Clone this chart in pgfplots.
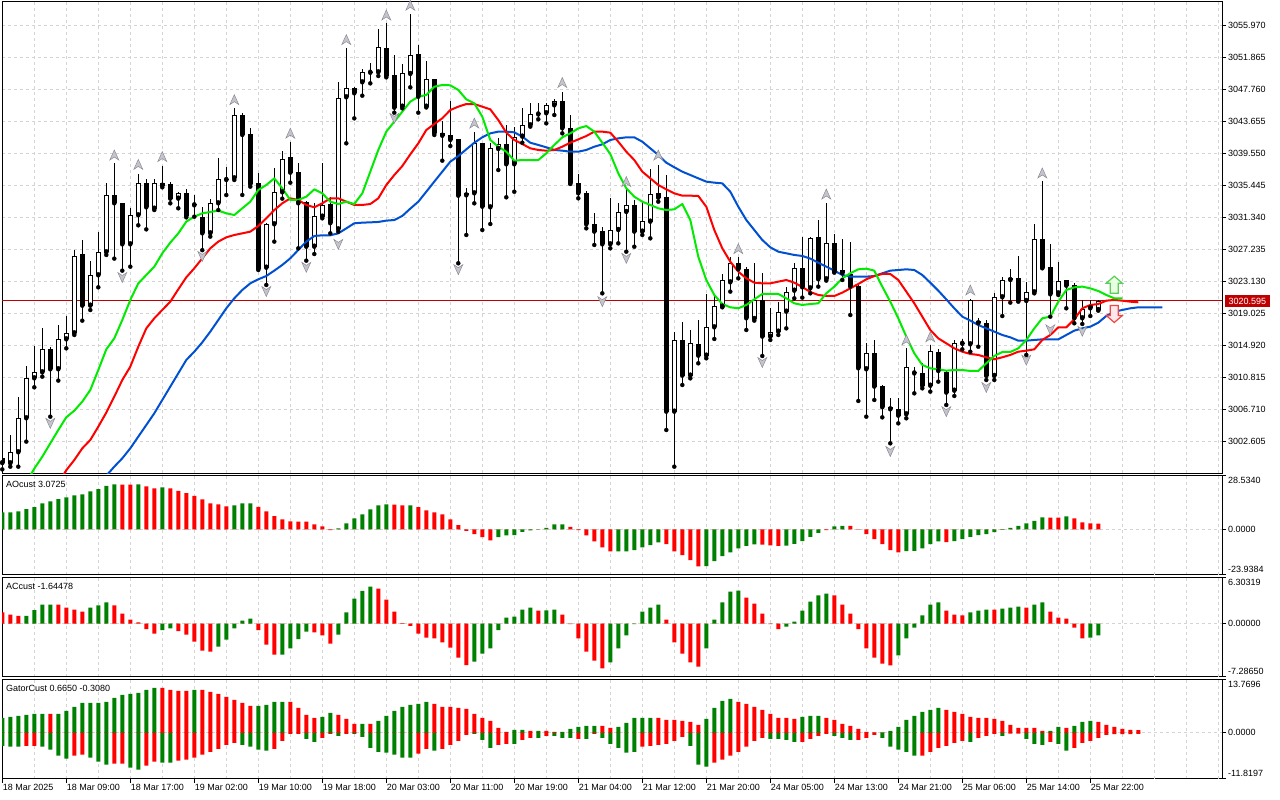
\documentclass[border=0pt]{standalone}
\usepackage{fontspec}
\setmainfont{Liberation Sans}
\usepackage{pgfplots}
\pgfplotsset{compat=1.18}
\usepackage{pgfplotstable}

\definecolor{mtgreen}{RGB}{0,128,0}
\definecolor{mtred}{RGB}{255,0,0}
\definecolor{jawc}{RGB}{0,80,210}
\definecolor{teethc}{RGB}{255,0,0}
\definecolor{lipsc}{RGB}{0,235,0}
\definecolor{gridc}{RGB}{212,212,212}
\definecolor{bidred}{RGB}{192,0,0}
\definecolor{fracfill}{RGB}{196,196,204}
\definecolor{fracdraw}{RGB}{135,135,145}
\newcommand{\lab}{\fontsize{9bp}{10bp}\selectfont}

\pgfdeclareplotmark{fup}{%
  \pgfpathmoveto{\pgfpoint{0bp}{5bp}}%
  \pgfpathlineto{\pgfpoint{4.5bp}{-5bp}}%
  \pgfpathlineto{\pgfpoint{0bp}{-2bp}}%
  \pgfpathlineto{\pgfpoint{-4.5bp}{-5bp}}%
  \pgfpathclose
  \pgfusepathqfillstroke}
\pgfdeclareplotmark{fdn}{%
  \pgfpathmoveto{\pgfpoint{0bp}{-5bp}}%
  \pgfpathlineto{\pgfpoint{4.5bp}{5bp}}%
  \pgfpathlineto{\pgfpoint{0bp}{2bp}}%
  \pgfpathlineto{\pgfpoint{-4.5bp}{5bp}}%
  \pgfpathclose
  \pgfusepathqfillstroke}
\pgfdeclareplotmark{sigup}{%
  \pgfpathmoveto{\pgfpoint{0bp}{8.5bp}}%
  \pgfpathlineto{\pgfpoint{8bp}{1.5bp}}%
  \pgfpathlineto{\pgfpoint{4bp}{1.5bp}}%
  \pgfpathlineto{\pgfpoint{4bp}{-8.5bp}}%
  \pgfpathlineto{\pgfpoint{-4bp}{-8.5bp}}%
  \pgfpathlineto{\pgfpoint{-4bp}{1.5bp}}%
  \pgfpathlineto{\pgfpoint{-8bp}{1.5bp}}%
  \pgfpathclose
  \pgfusepathqfillstroke}
\pgfdeclareplotmark{sigdn}{%
  \pgfpathmoveto{\pgfpoint{0bp}{-8.5bp}}%
  \pgfpathlineto{\pgfpoint{8bp}{-1.5bp}}%
  \pgfpathlineto{\pgfpoint{4bp}{-1.5bp}}%
  \pgfpathlineto{\pgfpoint{4bp}{8.5bp}}%
  \pgfpathlineto{\pgfpoint{-4bp}{8.5bp}}%
  \pgfpathlineto{\pgfpoint{-4bp}{-1.5bp}}%
  \pgfpathlineto{\pgfpoint{-8bp}{-1.5bp}}%
  \pgfpathclose
  \pgfusepathqfillstroke}

% ---------------- data ----------------
\pgfplotstableread{
i O H L C
0 3000.40 3001.00 2999.00 2999.80
1 2999.78 3003.41 2999.35 3001.28
2 3001.19 3008.32 2999.35 3005.55
3 3005.55 3012.25 3002.56 3010.67
4 3010.67 3014.82 3009.52 3011.44
5 3011.44 3017.08 3010.89 3014.39
6 3014.39 3014.65 3005.76 3011.83
7 3011.83 3017.51 3010.38 3015.67
8 3015.67 3018.66 3014.52 3016.44
9 3016.44 3027.13 3016.23 3026.36
10 3026.57 3028.41 3018.07 3019.99
11 3019.99 3025.72 3019.43 3023.88
12 3023.88 3029.48 3022.34 3026.83
13 3026.83 3035.76 3026.49 3034.13
14 3034.13 3038.24 3026.02 3033.11
15 3033.11 3033.19 3024.48 3027.85
16 3027.85 3032.47 3024.99 3031.57
17 3031.57 3036.87 3030.29 3035.76
18 3035.76 3036.23 3029.77 3032.59
19 3032.42 3036.23 3032.25 3035.76
20 3035.76 3037.89 3035.16 3035.37
21 3035.54 3035.89 3033.11 3033.71
22 3033.71 3034.60 3032.47 3034.39
23 3034.39 3034.90 3031.31 3031.49
24 3032.85 3034.17 3031.40 3032.95
25 3031.31 3032.68 3027.10 3029.26
26 3029.26 3033.62 3028.84 3033.11
27 3033.11 3038.88 3032.25 3036.19
28 3036.10 3037.81 3034.17 3036.20
29 3036.31 3045.29 3036.10 3044.43
30 3044.43 3044.65 3034.18 3041.87
31 3042.00 3042.81 3035.25 3035.54
32 3035.76 3037.04 3024.56 3024.69
33 3024.86 3030.63 3022.64 3030.46
34 3030.42 3037.60 3028.20 3034.52
35 3034.52 3039.86 3033.71 3038.75
36 3039.09 3040.93 3035.76 3037.04
37 3037.08 3038.24 3027.34 3033.11
38 3033.28 3033.40 3025.76 3027.55
39 3027.55 3033.11 3026.61 3031.49
40 3031.40 3038.32 3031.19 3032.90
41 3033.02 3033.96 3029.26 3030.55
42 3029.77 3048.71 3029.48 3046.57
43 3046.70 3052.98 3040.80 3047.85
44 3047.85 3047.98 3044.00 3047.21
45 3048.62 3050.29 3046.91 3049.90
46 3049.85 3051.14 3048.49 3049.95
47 3049.90 3055.42 3049.43 3053.11
48 3052.98 3056.18 3049.26 3049.43
49 3049.56 3052.13 3044.73 3045.37
50 3045.50 3050.97 3045.29 3049.86
51 3049.69 3057.38 3047.98 3052.13
52 3052.25 3053.41 3044.73 3046.78
53 3045.50 3051.40 3045.40 3049.00
54 3049.00 3049.10 3041.87 3042.08
55 3042.08 3043.71 3038.58 3041.78
56 3041.87 3046.27 3040.46 3041.23
57 3041.36 3041.40 3025.42 3034.09
58 3034.13 3035.03 3029.05 3034.39
59 3034.39 3042.30 3033.11 3040.80
60 3040.88 3040.90 3029.69 3032.68
61 3032.59 3040.88 3030.46 3040.16
62 3040.07 3041.44 3037.38 3040.67
63 3040.67 3043.15 3033.88 3038.11
64 3038.11 3042.94 3034.60 3041.66
65 3041.66 3045.29 3040.88 3043.11
66 3043.11 3045.93 3042.94 3044.52
67 3044.50 3045.93 3043.88 3044.55
68 3044.65 3046.01 3043.36 3045.67
69 3045.67 3046.44 3044.43 3046.22
70 3046.22 3047.42 3042.08 3042.72
71 3042.72 3044.43 3035.59 3035.67
72 3035.67 3036.87 3033.75 3034.39
73 3034.39 3034.69 3029.90 3030.42
74 3030.42 3031.91 3027.77 3029.48
75 3029.56 3030.12 3021.57 3027.85
76 3027.85 3033.75 3027.34 3029.69
77 3029.69 3033.11 3027.98 3032.00
78 3032.00 3035.03 3026.91 3032.90
79 3032.90 3033.54 3027.55 3029.48
80 3029.48 3033.24 3029.05 3030.84
81 3030.76 3037.47 3028.62 3034.26
82 3034.39 3038.02 3033.32 3033.83
83 3033.88 3036.74 3004.05 3006.40
84 3006.40 3016.66 2999.35 3015.59
85 3015.59 3017.94 3009.82 3011.02
86 3011.02 3016.87 3010.67 3015.16
87 3015.08 3018.15 3012.60 3013.58
88 3013.58 3021.49 3013.24 3017.21
89 3017.21 3021.36 3015.72 3019.95
90 3019.86 3024.05 3019.78 3023.28
91 3022.98 3026.27 3021.79 3025.42
92 3025.42 3026.27 3023.49 3024.65
93 3024.65 3024.99 3016.87 3018.37
94 3018.28 3025.42 3018.07 3020.74
95 3020.74 3024.22 3013.54 3016.02
96 3016.02 3019.65 3015.59 3016.66
97 3016.66 3020.50 3016.23 3019.22
98 3019.22 3022.43 3017.08 3021.79
99 3021.91 3025.50 3020.93 3024.78
100 3024.78 3028.75 3021.02 3022.34
101 3022.21 3028.84 3021.57 3028.62
102 3028.75 3030.97 3022.43 3023.37
103 3023.37 3033.11 3023.20 3027.98
104 3027.98 3029.13 3024.22 3024.35
105 3024.56 3028.54 3023.28 3024.14
106 3024.05 3028.15 3018.79 3022.43
107 3022.51 3022.64 3007.77 3011.96
108 3011.83 3015.25 3005.76 3013.88
109 3013.88 3015.59 3007.90 3009.61
110 3009.69 3009.82 3005.67 3006.96
111 3007.04 3008.11 3002.34 3006.70
112 3006.74 3008.11 3004.90 3005.89
113 3006.06 3014.52 3005.55 3012.08
114 3011.30 3012.17 3008.75 3011.40
115 3011.32 3012.60 3009.39 3009.73
116 3009.73 3014.95 3008.97 3014.18
117 3014.09 3014.39 3010.25 3011.61
118 3011.53 3011.74 3007.26 3008.84
119 3009.09 3015.59 3008.41 3015.16
120 3015.10 3015.67 3014.39 3015.20
121 3015.03 3020.80 3014.09 3020.74
122 3018.07 3018.45 3014.73 3017.73
123 3017.73 3018.15 3010.46 3010.98
124 3010.98 3021.66 3010.46 3021.06
125 3021.06 3023.62 3018.66 3023.28
126 3023.28 3024.65 3020.38 3023.58
127 3023.58 3026.36 3020.50 3020.59
128 3020.59 3023.07 3013.67 3021.70
129 3021.70 3030.46 3021.57 3028.54
130 3028.54 3035.97 3024.78 3024.86
131 3024.99 3027.89 3018.58 3021.44
132 3021.57 3025.63 3021.36 3023.15
133 3023.28 3023.30 3019.65 3022.55
134 3022.64 3022.85 3017.73 3018.37
135 3018.37 3020.74 3017.64 3019.52
136 3019.65 3020.74 3018.66 3020.08
137 3019.43 3020.74 3019.35 3020.595
}\ohlc

\pgfplotstableread{
i v
3 2997.30
4 2999.10
5 3000.63
6 3002.34
7 3004.05
8 3005.68
9 3006.53
10 3007.69
11 3009.18
12 3011.74
13 3014.39
14 3015.80
15 3018.15
16 3020.72
17 3022.85
18 3023.92
19 3024.99
20 3026.70
21 3028.07
22 3029.26
23 3030.76
24 3031.40
25 3031.83
26 3032.00
27 3032.17
28 3031.83
29 3031.61
30 3032.47
31 3033.32
32 3034.82
33 3035.46
34 3036.31
35 3035.03
36 3033.54
37 3033.54
38 3033.96
39 3034.90
40 3034.39
41 3033.32
42 3033.02
43 3033.32
44 3033.02
45 3034.39
46 3037.17
47 3039.95
48 3042.30
49 3043.58
50 3044.86
51 3046.14
52 3046.78
53 3047.00
54 3048.06
55 3048.28
56 3048.24
57 3047.64
58 3046.44
59 3045.93
60 3044.22
61 3041.23
62 3040.37
63 3039.73
64 3038.58
65 3038.66
66 3038.66
67 3038.66
68 3039.52
69 3040.59
70 3041.57
71 3042.08
72 3042.72
73 3043.02
74 3042.30
75 3040.88
76 3039.43
77 3036.96
78 3035.03
79 3033.96
80 3033.32
81 3032.90
82 3032.47
83 3032.25
84 3032.34
85 3033.02
86 3030.97
87 3026.27
88 3023.28
89 3021.36
90 3020.20
91 3019.78
92 3019.65
93 3020.08
94 3020.80
95 3021.49
96 3021.49
97 3021.49
98 3020.93
99 3020.29
100 3020.08
101 3020.20
102 3020.29
103 3021.57
104 3022.43
105 3023.49
106 3024.14
107 3024.65
108 3024.73
109 3024.48
110 3022.43
111 3020.50
112 3018.37
113 3016.02
114 3013.88
115 3012.39
116 3011.96
117 3011.83
118 3011.66
119 3011.74
120 3011.74
121 3011.62
122 3011.62
123 3012.60
124 3013.54
125 3014.05
126 3014.05
127 3014.52
128 3015.59
129 3017.08
130 3018.37
131 3018.58
132 3020.50
133 3022.00
134 3022.34
135 3022.43
136 3022.21
137 3021.87
138 3021.36
139 3020.93
140 3020.93
}\lipst

\pgfplotstableread{
i v
7 2997.20
8 2998.90
9 3000.20
10 3001.70
11 3002.77
12 3004.48
13 3006.28
14 3008.33
15 3010.46
16 3012.17
17 3014.73
18 3017.08
19 3018.37
20 3019.44
21 3020.50
22 3022.09
23 3023.62
24 3024.78
25 3026.06
26 3027.34
27 3028.20
28 3028.75
29 3029.05
30 3029.26
31 3029.48
32 3030.20
33 3031.19
34 3032.25
35 3033.11
36 3033.75
37 3033.54
38 3032.90
39 3032.60
40 3033.11
41 3033.75
42 3033.75
43 3033.32
44 3032.90
45 3032.90
46 3033.02
47 3033.75
48 3035.46
49 3036.74
50 3037.89
51 3039.39
52 3040.80
53 3042.51
54 3043.28
55 3044.01
56 3045.07
57 3045.50
58 3045.84
59 3045.84
60 3045.50
61 3045.16
62 3043.79
63 3042.17
64 3041.23
65 3040.71
66 3040.16
67 3039.95
68 3039.86
69 3039.95
70 3040.37
71 3040.88
72 3041.31
73 3041.74
74 3042.30
75 3042.30
76 3042.17
77 3041.01
78 3039.73
79 3038.66
80 3037.17
81 3036.31
82 3035.46
83 3034.90
84 3034.39
85 3034.09
86 3034.09
87 3034.05
88 3032.68
89 3029.69
90 3027.34
91 3025.63
92 3024.35
93 3023.49
94 3022.94
95 3022.85
96 3022.85
97 3023.07
98 3023.28
99 3022.94
100 3022.38
101 3021.74
102 3021.36
103 3021.23
104 3021.23
105 3021.66
106 3022.21
107 3022.77
108 3023.37
109 3023.79
110 3024.05
111 3024.05
112 3023.28
113 3021.79
114 3020.29
115 3018.58
116 3016.87
117 3015.80
118 3015.16
119 3014.52
120 3014.09
121 3013.80
122 3013.67
123 3013.37
124 3013.11
125 3013.37
126 3013.67
127 3014.09
128 3014.22
129 3014.39
130 3015.59
131 3016.23
132 3017.21
133 3017.21
134 3018.24
135 3019.65
136 3020.08
137 3020.20
138 3020.63
139 3020.72
140 3020.63
141 3020.50
142 3020.42
}\teetht

\pgfplotstableread{
i v
13 2998.20
14 2999.35
15 3000.42
16 3001.70
17 3003.20
18 3004.69
19 3006.19
20 3007.90
21 3009.61
22 3011.32
23 3013.03
24 3014.09
25 3015.29
26 3016.66
27 3018.15
28 3019.65
29 3020.93
30 3022.00
31 3022.85
32 3023.37
33 3023.79
34 3024.48
35 3025.21
36 3026.06
37 3027.13
38 3028.20
39 3028.92
40 3029.01
41 3029.01
42 3029.26
43 3029.90
44 3030.55
45 3030.63
46 3030.67
47 3030.72
48 3030.89
49 3030.97
50 3031.49
51 3032.43
52 3033.32
53 3034.60
54 3035.89
55 3037.17
56 3038.45
57 3039.17
58 3040.03
59 3040.88
60 3041.57
61 3042.08
62 3042.30
63 3042.30
64 3042.21
65 3041.66
66 3040.88
67 3040.59
68 3040.29
69 3039.95
70 3039.86
71 3039.73
72 3039.73
73 3039.95
74 3040.37
75 3040.67
76 3041.23
77 3041.44
78 3041.57
79 3041.57
80 3041.01
81 3040.16
82 3039.30
83 3038.32
84 3037.73
85 3037.17
86 3036.74
87 3036.31
88 3035.89
89 3035.76
90 3035.67
91 3034.60
92 3032.68
93 3030.97
94 3029.69
95 3028.41
96 3027.47
97 3026.91
98 3026.70
99 3026.49
100 3026.36
101 3026.02
102 3025.50
103 3024.99
104 3024.48
105 3023.92
106 3023.71
107 3023.71
108 3023.71
109 3023.79
110 3024.14
111 3024.48
112 3024.56
113 3024.65
114 3024.56
115 3023.92
116 3022.94
117 3021.91
118 3020.80
119 3019.65
120 3018.58
121 3018.07
122 3017.51
123 3017.08
124 3016.66
125 3016.23
126 3015.93
127 3015.50
128 3015.50
129 3015.59
130 3015.67
131 3015.67
132 3015.67
133 3016.23
134 3016.79
135 3017.08
136 3017.30
137 3017.81
138 3018.67
139 3019.22
140 3019.44
141 3019.65
142 3019.78
143 3019.78
144 3019.78
145 3019.78
}\jawt

\pgfplotstableread{
i v g
0 8.99 1
1 8.99 1
2 9.52 1
3 10.75 1
4 11.81 1
5 13.75 1
6 14.81 1
7 16.04 1
8 16.92 1
9 17.98 1
10 18.51 1
11 20.10 1
12 21.33 1
13 23.10 1
14 23.80 1
15 23.75 0
16 23.70 0
17 23.80 1
18 22.74 0
19 21.68 0
20 22.21 1
21 21.68 0
22 20.45 0
23 19.22 0
24 17.81 0
25 15.87 0
26 13.75 0
27 13.22 0
28 12.16 0
29 12.69 1
30 13.75 1
31 13.80 1
32 11.99 0
33 9.52 0
34 7.05 0
35 5.29 0
36 4.23 0
37 4.20 0
38 4.15 0
39 2.64 0
40 1.59 0
41 -0.35 0
42 0.53 1
43 3.17 1
44 5.82 1
45 7.93 1
46 10.58 1
47 12.69 1
48 13.22 1
49 13.18 0
50 12.69 0
51 12.72 1
52 11.81 0
53 10.05 0
54 8.99 0
55 7.93 0
56 5.29 0
57 2.29 0
58 -0.71 0
59 -2.47 0
60 -4.05 0
61 -5.82 0
62 -4.05 1
63 -3.17 1
64 -3.00 1
65 -1.23 1
66 -0.53 1
67 0.18 1
68 0.88 1
69 2.64 1
70 2.70 1
71 1.41 0
72 -0.35 0
73 -3.17 0
74 -6.35 0
75 -9.52 0
76 -11.64 0
77 -11.60 1
78 -11.55 1
79 -10.93 1
80 -9.52 1
81 -8.29 1
82 -6.88 1
83 -7.76 0
84 -11.64 0
85 -13.58 0
86 -16.22 0
87 -19.50 0
88 -19.40 1
89 -16.75 1
90 -14.10 1
91 -12.16 1
92 -10.05 1
93 -8.64 1
94 -7.93 1
95 -7.98 0
96 -8.46 0
97 -8.64 0
98 -8.60 1
99 -7.58 1
100 -6.17 1
101 -3.88 1
102 -1.76 1
103 -0.35 0
104 1.59 1
105 1.94 1
106 1.90 0
107 0.18 0
108 -2.47 0
109 -5.11 0
110 -7.76 0
111 -10.93 0
112 -12.16 0
113 -11.46 1
114 -11.28 1
115 -10.05 1
116 -7.76 1
117 -6.35 1
118 -6.70 0
119 -6.17 1
120 -5.11 1
121 -3.88 1
122 -3.00 1
123 -2.47 1
124 -1.41 1
125 -0.18 1
126 0.88 1
127 1.94 1
128 3.17 1
129 4.58 1
130 6.35 1
131 6.30 0
132 6.25 0
133 6.88 1
134 5.82 0
135 3.70 0
136 3.17 0
137 3.07 0
}\aot

\pgfplotstableread{
i v g
0 1.51 0
1 1.23 0
2 1.05 0
3 1.05 1
4 1.83 1
5 2.60 1
6 2.60 1
7 2.60 0
8 2.19 0
9 1.92 0
10 1.64 0
11 2.19 1
12 2.47 1
13 2.88 1
14 2.47 0
15 1.37 0
16 0.55 0
17 0.14 0
18 -0.78 0
19 -1.37 0
20 -0.91 1
21 -0.68 1
22 -1.05 0
23 -1.51 0
24 -2.47 0
25 -3.70 0
26 -3.84 0
27 -3.15 1
28 -2.19 1
29 -0.68 1
30 0.41 1
31 0.68 1
32 -0.91 0
33 -2.88 0
34 -4.25 0
35 -4.25 1
36 -3.42 1
37 -2.15 1
38 -1.10 1
39 -1.23 0
40 -1.64 0
41 -2.74 0
42 -1.51 1
43 1.51 1
44 3.42 1
45 4.47 1
46 5.07 1
47 4.79 0
48 3.29 0
49 1.64 0
50 0.05 0
51 -0.32 0
52 -1.37 0
53 -1.92 0
54 -2.05 0
55 -2.60 0
56 -3.29 0
57 -4.66 0
58 -5.71 0
59 -5.21 1
60 -4.11 1
61 -3.42 1
62 -0.91 1
63 0.82 1
64 0.96 1
65 1.92 1
66 2.19 1
67 1.78 0
68 1.80 1
69 1.92 1
70 1.23 0
71 -0.09 0
72 -2.05 0
73 -3.84 0
74 -5.07 0
75 -6.16 0
76 -5.34 1
77 -3.42 1
78 -1.64 1
79 -0.09 1
80 1.64 1
81 2.19 1
82 2.60 1
83 0.55 0
84 -2.60 0
85 -4.11 0
86 -5.34 0
87 -5.89 0
88 -3.42 1
89 0.55 1
90 2.88 1
91 4.38 1
92 4.52 1
93 3.56 0
94 2.74 0
95 1.37 0
96 -0.09 0
97 -0.78 0
98 -0.41 1
99 0.27 1
100 1.78 1
101 3.01 1
102 3.84 1
103 4.11 1
104 3.84 0
105 2.60 0
106 1.37 0
107 -0.78 0
108 -3.42 0
109 -4.66 0
110 -5.48 0
111 -5.75 0
112 -4.38 1
113 -2.05 1
114 -0.55 1
115 1.10 1
116 2.60 1
117 2.88 1
118 1.78 0
119 1.23 0
120 1.10 0
121 1.51 1
122 1.78 1
123 1.92 1
124 1.90 0
125 2.05 1
126 2.19 1
127 2.33 1
128 2.19 0
129 2.60 1
130 2.88 1
131 1.64 0
132 0.82 0
133 0.68 0
134 -0.55 0
135 -2.05 0
136 -1.92 1
137 -1.64 1
}\act

\pgfplotstableread{
i u ug d dg
0 3.85 1 -3.34 1
1 4.11 1 -3.59 1
2 4.36 1 -3.59 1
3 4.62 1 -3.34 0
4 4.88 1 -3.34 0
5 4.88 1 -3.59 1
6 4.88 0 -4.36 1
7 4.88 1 -5.90 1
8 5.65 1 -6.67 1
9 6.67 1 -5.90 0
10 7.70 1 -5.65 0
11 7.70 1 -6.42 1
12 7.70 1 -7.44 1
13 7.96 1 -8.21 1
14 8.98 1 -7.96 0
15 9.75 1 -7.96 0
16 10.01 1 -8.98 1
17 10.27 1 -9.50 1
18 11.04 1 -8.47 0
19 11.55 1 -7.44 0
20 11.55 0 -7.70 1
21 11.04 0 -7.70 1
22 10.78 0 -7.19 0
23 10.78 0 -6.93 0
24 11.04 1 -6.42 0
25 11.04 0 -5.65 0
26 10.52 0 -4.88 0
27 10.01 0 -4.11 0
28 9.24 0 -3.08 0
29 8.47 0 -2.57 0
30 7.70 0 -3.08 1
31 6.93 0 -3.59 1
32 6.93 1 -4.36 1
33 7.19 1 -4.62 1
34 7.96 1 -4.11 0
35 7.96 1 -2.05 0
36 7.96 0 -0.26 0
37 6.42 0 -0.26 0
38 4.62 0 -1.54 1
39 3.85 0 -2.31 1
40 4.11 1 -1.28 0
41 5.13 1 -0.26 0
42 4.62 0 -0.77 1
43 3.59 0 -0.26 0
44 2.31 0 -0.26 1
45 2.31 1 -1.03 1
46 2.31 0 -3.85 1
47 3.08 1 -4.88 1
48 4.36 1 -5.13 1
49 5.65 1 -5.65 1
50 6.67 1 -6.42 1
51 7.19 1 -6.42 1
52 7.44 1 -5.39 0
53 7.96 1 -4.11 0
54 7.44 0 -4.62 1
55 6.67 0 -4.11 0
56 6.67 0 -3.08 0
57 6.42 0 -2.05 0
58 6.16 0 -0.51 0
59 4.88 0 -0.26 1
60 3.85 0 -1.80 1
61 3.08 0 -3.85 1
62 1.28 0 -3.08 0
63 0.26 0 -2.82 0
64 0.77 1 -2.82 1
65 0.77 1 -1.80 0
66 0.51 0 -1.28 0
67 0.51 1 -1.28 1
68 0.51 0 -0.77 0
69 0.26 0 -0.77 1
70 0.26 1 -1.28 1
71 1.03 1 -1.28 1
72 1.54 1 -1.54 0
73 1.80 1 -1.54 1
74 1.80 1 -0.26 0
75 1.80 0 -1.28 1
76 1.28 0 -2.82 1
77 1.54 1 -3.85 1
78 2.57 1 -5.13 1
79 3.85 1 -4.88 1
80 3.85 1 -3.59 0
81 3.85 1 -3.34 0
82 3.85 0 -3.08 0
83 3.34 0 -2.82 0
84 3.34 0 -2.05 0
85 3.08 0 -1.03 0
86 2.82 0 -3.34 1
87 2.05 0 -8.21 1
88 3.59 1 -8.73 1
89 6.42 1 -7.70 0
90 8.21 1 -6.93 0
91 8.73 1 -5.90 0
92 7.96 0 -4.88 0
93 7.44 0 -3.59 0
94 6.67 0 -2.05 0
95 5.90 0 -1.28 0
96 4.88 0 -1.54 1
97 3.85 0 -1.54 1
98 3.85 0 -1.80 1
99 3.59 0 -2.31 1
100 4.11 1 -2.31 0
101 4.36 1 -1.54 0
102 4.36 1 -0.77 0
103 3.85 0 -0.26 0
104 3.34 0 -0.77 1
105 2.31 0 -1.28 1
106 1.80 0 -1.80 1
107 1.03 0 -1.80 0
108 0.26 0 -1.28 0
109 0.10 0 -0.51 0
110 0.10 1 -1.28 1
111 0.51 1 -3.59 1
112 1.54 1 -4.36 1
113 3.34 1 -4.88 1
114 4.36 1 -5.90 1
115 5.39 1 -5.90 0
116 5.90 1 -4.88 0
117 6.42 1 -3.85 0
118 5.90 0 -3.34 0
119 5.39 0 -2.57 0
120 4.88 0 -2.05 0
121 4.11 0 -2.31 1
122 3.85 0 -1.28 0
123 3.85 0 -0.77 0
124 3.59 0 -0.26 0
125 3.08 0 -0.77 1
126 2.05 0 -0.20 0
127 1.28 0 -0.20 0
128 1.28 0 -1.54 1
129 1.28 0 -2.82 1
130 0.51 0 -3.08 1
131 0.51 1 -2.31 0
132 1.54 1 -2.82 1
133 1.28 0 -4.62 1
134 1.80 1 -3.85 0
135 2.82 1 -2.57 0
136 3.08 1 -2.05 0
137 2.82 0 -1.28 0
138 2.05 0 -0.51 0
139 1.54 0 -0.31 0
140 1.03 0 -0.31 0
141 0.77 0 -0.31 0
142 0.665 0 -0.308 0
}\gatt

\pgfplotsset{
  mt/.style={
    scale only axis, width=1220bp, anchor=north west,
    xmin=-0.0375, xmax=152.4625,
    axis line style={line width=1bp, black},
    xtick={0,8,...,136}, minor xtick={4,12,...,148},
    extra x ticks={144,152}, extra x tick labels={},
    extra x tick style={grid=major, major tick length=0bp},
    xmajorgrids, xminorgrids, ymajorgrids,
    grid style={gridc, dash pattern=on 3bp off 3bp, line width=1bp},
    minor grid style={gridc, dash pattern=on 3bp off 3bp, line width=1bp},
    tick align=outside, xtick pos=bottom, ytick pos=right, yticklabel pos=right,
    major tick length=4bp, minor tick length=0bp,
    tick style={black, line width=1bp},
    xtick style={draw=none},
    xticklabels={},
    ticklabel style={font=\lab, inner sep=0pt},
    yticklabel style={anchor=west, xshift=2bp},
  },
  barg/.style={ybar, bar width=4bp, bar shift=0pt, fill=mtgreen, draw=none, forget plot},
  barr/.style={ybar, bar width=4bp, bar shift=0pt, fill=mtred, draw=none, forget plot},
}

\begin{document}
\begin{tikzpicture}
\useasboundingbox (0,0) rectangle (1280bp,-800bp);
\fill[white] (0,0) rectangle (1280bp,-800bp);

% ---------------- main price panel ----------------
\begin{axis}[mt, name=main, at={(2bp,-2bp)}, height=471bp,
  ymin=2998.536, ymax=3058.919,
  ytick={3002.605,3006.710,3010.815,3014.920,3019.025,3023.130,3027.235,3031.340,3035.445,3039.550,3043.655,3047.760,3051.865,3055.970},
  yticklabels={3002.605,3006.710,3010.815,3014.920,3019.025,3023.130,3027.235,3031.340,3035.445,3039.550,3043.655,3047.760,3051.865,3055.970},
]
% bid line
\addplot[bidred, line width=0.9bp, forget plot] coordinates {(-1,3020.595) (153,3020.595)};
% wicks
\addplot[only marks, mark=none, forget plot,
  error bars/.cd, y dir=plus, y explicit, error mark=none,
  error bar style={draw=black, line width=1bp}]
  table[x=i, y=L, y error plus expr={\thisrow{H}-\thisrow{L}}] {\ohlc};
% bodies (black)
\addplot[only marks, mark=none, forget plot,
  error bars/.cd, y dir=plus, y explicit, error mark=none,
  error bar style={draw=black, line width=5bp}]
  table[x=i, y expr={min(\thisrow{O},\thisrow{C})},
        y error plus expr={max(abs(\thisrow{C}-\thisrow{O}),0.13)}] {\ohlc};
% bullish interior (white)
\addplot[only marks, mark=none, forget plot,
  error bars/.cd, y dir=plus, y explicit, error mark=none,
  error bar style={draw=white, line width=3bp}]
  table[x=i, y expr={min(\thisrow{O},\thisrow{C})+0.1282},
        y error plus expr={(\thisrow{C}>\thisrow{O}) ? max(\thisrow{C}-\thisrow{O}-0.2564,0) : 0}] {\ohlc};
% alligator
\addplot[jawc, line width=2bp, line join=round, forget plot] table[x=i, y=v] {\jawt};
\addplot[teethc, line width=2bp, line join=round, forget plot] table[x=i, y=v] {\teetht};
\addplot[lipsc, line width=2bp, line join=round, forget plot] table[x=i, y=v] {\lipst};
% fractals
\addplot[only marks, mark=fup, mark options={fill=fracfill, draw=fracdraw, line width=0.45bp}, forget plot] coordinates {
(14,3039.3) (17,3038.1) (20,3039.1) (29,3046.4) (36,3042.1) (43,3054.1) (48,3057.25) (51,3058.5)
(59,3043.4) (70,3048.6) (78,3035.9) (82,3039.3) (92,3027.3) (103,3034.3) (113,3015.6) (116,3016.0)
(121,3022.0) (130,3037.0)};
\addplot[only marks, mark=fdn, mark options={fill=fracfill, draw=fracdraw, line width=0.45bp}, forget plot] coordinates {
(2,2998.3) (6,3004.9) (15,3023.6) (25,3026.3) (33,3021.8) (38,3024.9) (42,3027.85) (49,3044.0)
(57,3024.6) (75,3020.5) (78,3026.05) (84,2998.3) (95,3012.7) (111,3001.3) (118,3006.4) (123,3009.5)
(128,3013.0) (131,3016.9) (135,3016.7)};
% signal arrows
\addplot[only marks, mark=sigup, mark options={fill={rgb,255:red,232;green,255;blue,225}, draw={rgb,255:red,90;green,205;blue,90}, line width=1.2bp}, forget plot] coordinates {(139,3022.68)};
\addplot[only marks, mark=sigdn, mark options={fill={rgb,255:red,255;green,232;blue,235}, draw={rgb,255:red,240;green,70;blue,70}, line width=1.2bp}, forget plot] coordinates {(139,3018.92)};
\coordinate (bid) at (axis cs:152.4625,3020.595);
\end{axis}
\node[anchor=west, fill=bidred, text=white, font=\lab, inner xsep=3.5bp, inner ysep=2.6bp] at ([xshift=3bp]bid) {3020.595};

% ---------------- AO ----------------
\begin{axis}[mt, name=ao, at={(2bp,-475.5bp)}, height=99.2bp,
  ymin=-23.9384, ymax=28.534, ytick={-23.9384,0,28.534}, yticklabels={,0.0000,}]
\addplot[barg] table[x=i, y expr={\thisrow{v}*\thisrow{g}}] {\aot};
\addplot[barr] table[x=i, y expr={\thisrow{v}*(1-\thisrow{g})}] {\aot};
\end{axis}
\node[anchor=north west, font=\lab, inner sep=0pt] at ([xshift=6bp,yshift=-1.6bp]ao.north east) {28.5340};
\node[anchor=south west, font=\lab, inner sep=0pt] at ([xshift=6bp,yshift=1.6bp]ao.south east) {-23.9384};
\node[anchor=north west, font=\lab, inner sep=0pt] at ([xshift=4bp,yshift=-5.5bp]ao.north west) {AOcust 3.0725};

% ---------------- AC ----------------
\begin{axis}[mt, name=ac, at={(2bp,-577.5bp)}, height=99.2bp,
  ymin=-7.2865, ymax=6.30319, ytick={-7.2865,0,6.30319}, yticklabels={,0.00000,}]
\addplot[barg] table[x=i, y expr={\thisrow{v}*\thisrow{g}}] {\act};
\addplot[barr] table[x=i, y expr={\thisrow{v}*(1-\thisrow{g})}] {\act};
\end{axis}
\node[anchor=north west, font=\lab, inner sep=0pt] at ([xshift=6bp,yshift=-1.6bp]ac.north east) {6.30319};
\node[anchor=south west, font=\lab, inner sep=0pt] at ([xshift=6bp,yshift=1.6bp]ac.south east) {-7.28650};
\node[anchor=north west, font=\lab, inner sep=0pt] at ([xshift=4bp,yshift=-5.5bp]ac.north west) {ACcust -1.64478};

% ---------------- Gator ----------------
\begin{axis}[mt, name=gat, at={(2bp,-679.3bp)}, height=99.4bp,
  ymin=-11.8197, ymax=13.7696, ytick={-11.8197,0,13.7696}, yticklabels={,0.0000,},
  xtick style={draw=black, line width=1bp},
  xticklabels={18 Mar 2025,18 Mar 09:00,18 Mar 17:00,19 Mar 02:00,19 Mar 10:00,19 Mar 18:00,20 Mar 03:00,20 Mar 11:00,20 Mar 19:00,21 Mar 04:00,21 Mar 12:00,21 Mar 20:00,24 Mar 05:00,24 Mar 13:00,24 Mar 21:00,25 Mar 06:00,25 Mar 14:00,25 Mar 22:00},
  xticklabel style={anchor=north west, xshift=0.4bp, yshift=-1.5bp},
]
\addplot[barg] table[x=i, y expr={\thisrow{u}*\thisrow{ug}}] {\gatt};
\addplot[barr] table[x=i, y expr={\thisrow{u}*(1-\thisrow{ug})}] {\gatt};
\addplot[barg] table[x=i, y expr={\thisrow{d}*\thisrow{dg}}] {\gatt};
\addplot[barr] table[x=i, y expr={\thisrow{d}*(1-\thisrow{dg})}] {\gatt};
\end{axis}
\node[anchor=north west, font=\lab, inner sep=0pt] at ([xshift=6bp,yshift=-1.6bp]gat.north east) {13.7696};
\node[anchor=south west, font=\lab, inner sep=0pt] at ([xshift=6bp,yshift=1.6bp]gat.south east) {-11.8197};
\node[anchor=north west, font=\lab, inner sep=0pt] at ([xshift=4bp,yshift=-5.5bp]gat.north west) {GatorCust 0.6650 -0.3080};
\end{tikzpicture}
\end{document}
